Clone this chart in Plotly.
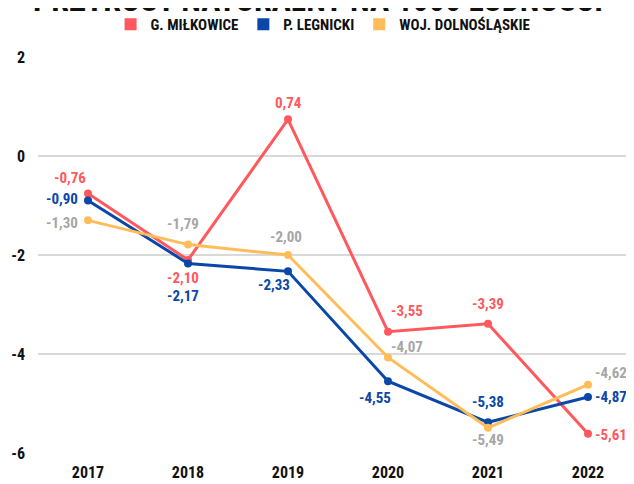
import plotly.graph_objects as go

years = ["2017", "2018", "2019", "2020", "2021", "2022"]
milkowice = [-0.76, -2.10, 0.74, -3.55, -3.39, -5.61]
legnicki = [-0.90, -2.17, -2.33, -4.55, -5.38, -4.87]
dolnoslaskie = [-1.30, -1.79, -2.00, -4.07, -5.49, -4.62]
y_ticks = [2, 0, -2, -4, -6]

series_names = ["G. MIŁKOWICE", "P. LEGNICKI", "WOJ. DOLNOŚLĄSKIE"]
line_colors = ["#FF585D", "#0A47A9", "#FFBD59"]
text_colors = ["#FF585D", "#0A47A9", "#A6A6A6"]
# pixel offsets of value labels from their points (style only)
label_offsets = [
    [(-18, -16), (-5, 18), (0, -16), (19, -21), (0, -20), (23, 1)],
    [(-26, -2), (-5, 33), (-14, 14), (-13, 17), (0, -20), (23, 0)],
    [(-26, 3), (-5, -21), (-2, -18), (19, -10), (0, 12), (23, -12)],
]

FONT = "Roboto Condensed, Roboto, Liberation Sans, sans-serif"

def fmt(v):
    return f"{v:.2f}".replace(".", ",")

fig = go.Figure()
annotations = []
for name, vals, lc, tc, offs in zip(series_names, [milkowice, legnicki, dolnoslaskie],
                                     line_colors, text_colors, label_offsets):
    fig.add_trace(go.Scatter(
        x=years, y=vals, mode="lines+markers", name=name,
        line=dict(color=lc, width=3), marker=dict(color=lc, size=8),
        showlegend=False, cliponaxis=False,
    ))
    fig.add_trace(go.Scatter(
        x=[None], y=[None], mode="markers", name=name,
        marker=dict(color=lc, size=9, symbol="square"), showlegend=True,
    ))
    for i, (yv, (dx, dy)) in enumerate(zip(vals, offs)):
        annotations.append(dict(
            x=i, y=yv, xref="x", yref="y", text="<b>" + fmt(yv) + "</b>",
            showarrow=False, xanchor="center", yanchor="middle",
            xshift=dx, yshift=-dy,
            font=dict(family=FONT, size=15, color=tc),
        ))

annotations.append(dict(
    x=0.4636, y=1.09, xref="paper", yref="paper", xanchor="center", yanchor="bottom",
    text="<b>PRZYROST NATURALNY NA 1000 LUDNOŚCI</b>", showarrow=False,
    font=dict(family=FONT, size=32, color="#111111"),
))

fig.update_layout(
    width=634, height=484,
    margin=dict(l=30, r=0, t=45, b=39),
    plot_bgcolor="white", paper_bgcolor="white",
    font=dict(family=FONT, color="#111111"),
    legend=dict(orientation="h", x=0.472, xanchor="center", y=1.0825, yanchor="middle",
                font=dict(family=FONT, size=15, color="#111111", weight="bold"),
                itemsizing="constant", traceorder="normal", bgcolor="rgba(0,0,0,0)"),
    annotations=annotations,
    xaxis=dict(type="category", range=[-0.5, 5.54], showgrid=False, zeroline=False,
               showline=False, ticks="", ticklabelstandoff=8,
               tickfont=dict(family=FONT, size=16, color="#111111", weight="bold")),
    yaxis=dict(range=[-6, 2], tickvals=y_ticks, ticktext=[str(t) for t in y_ticks],
               showgrid=True, gridcolor="#D9D9D9", gridwidth=1.5, zeroline=False,
               showline=False, ticks="", ticklabelstandoff=12,
               tickfont=dict(family=FONT, size=16, color="#111111", weight="bold")),
)

fig.write_html("out.html")
